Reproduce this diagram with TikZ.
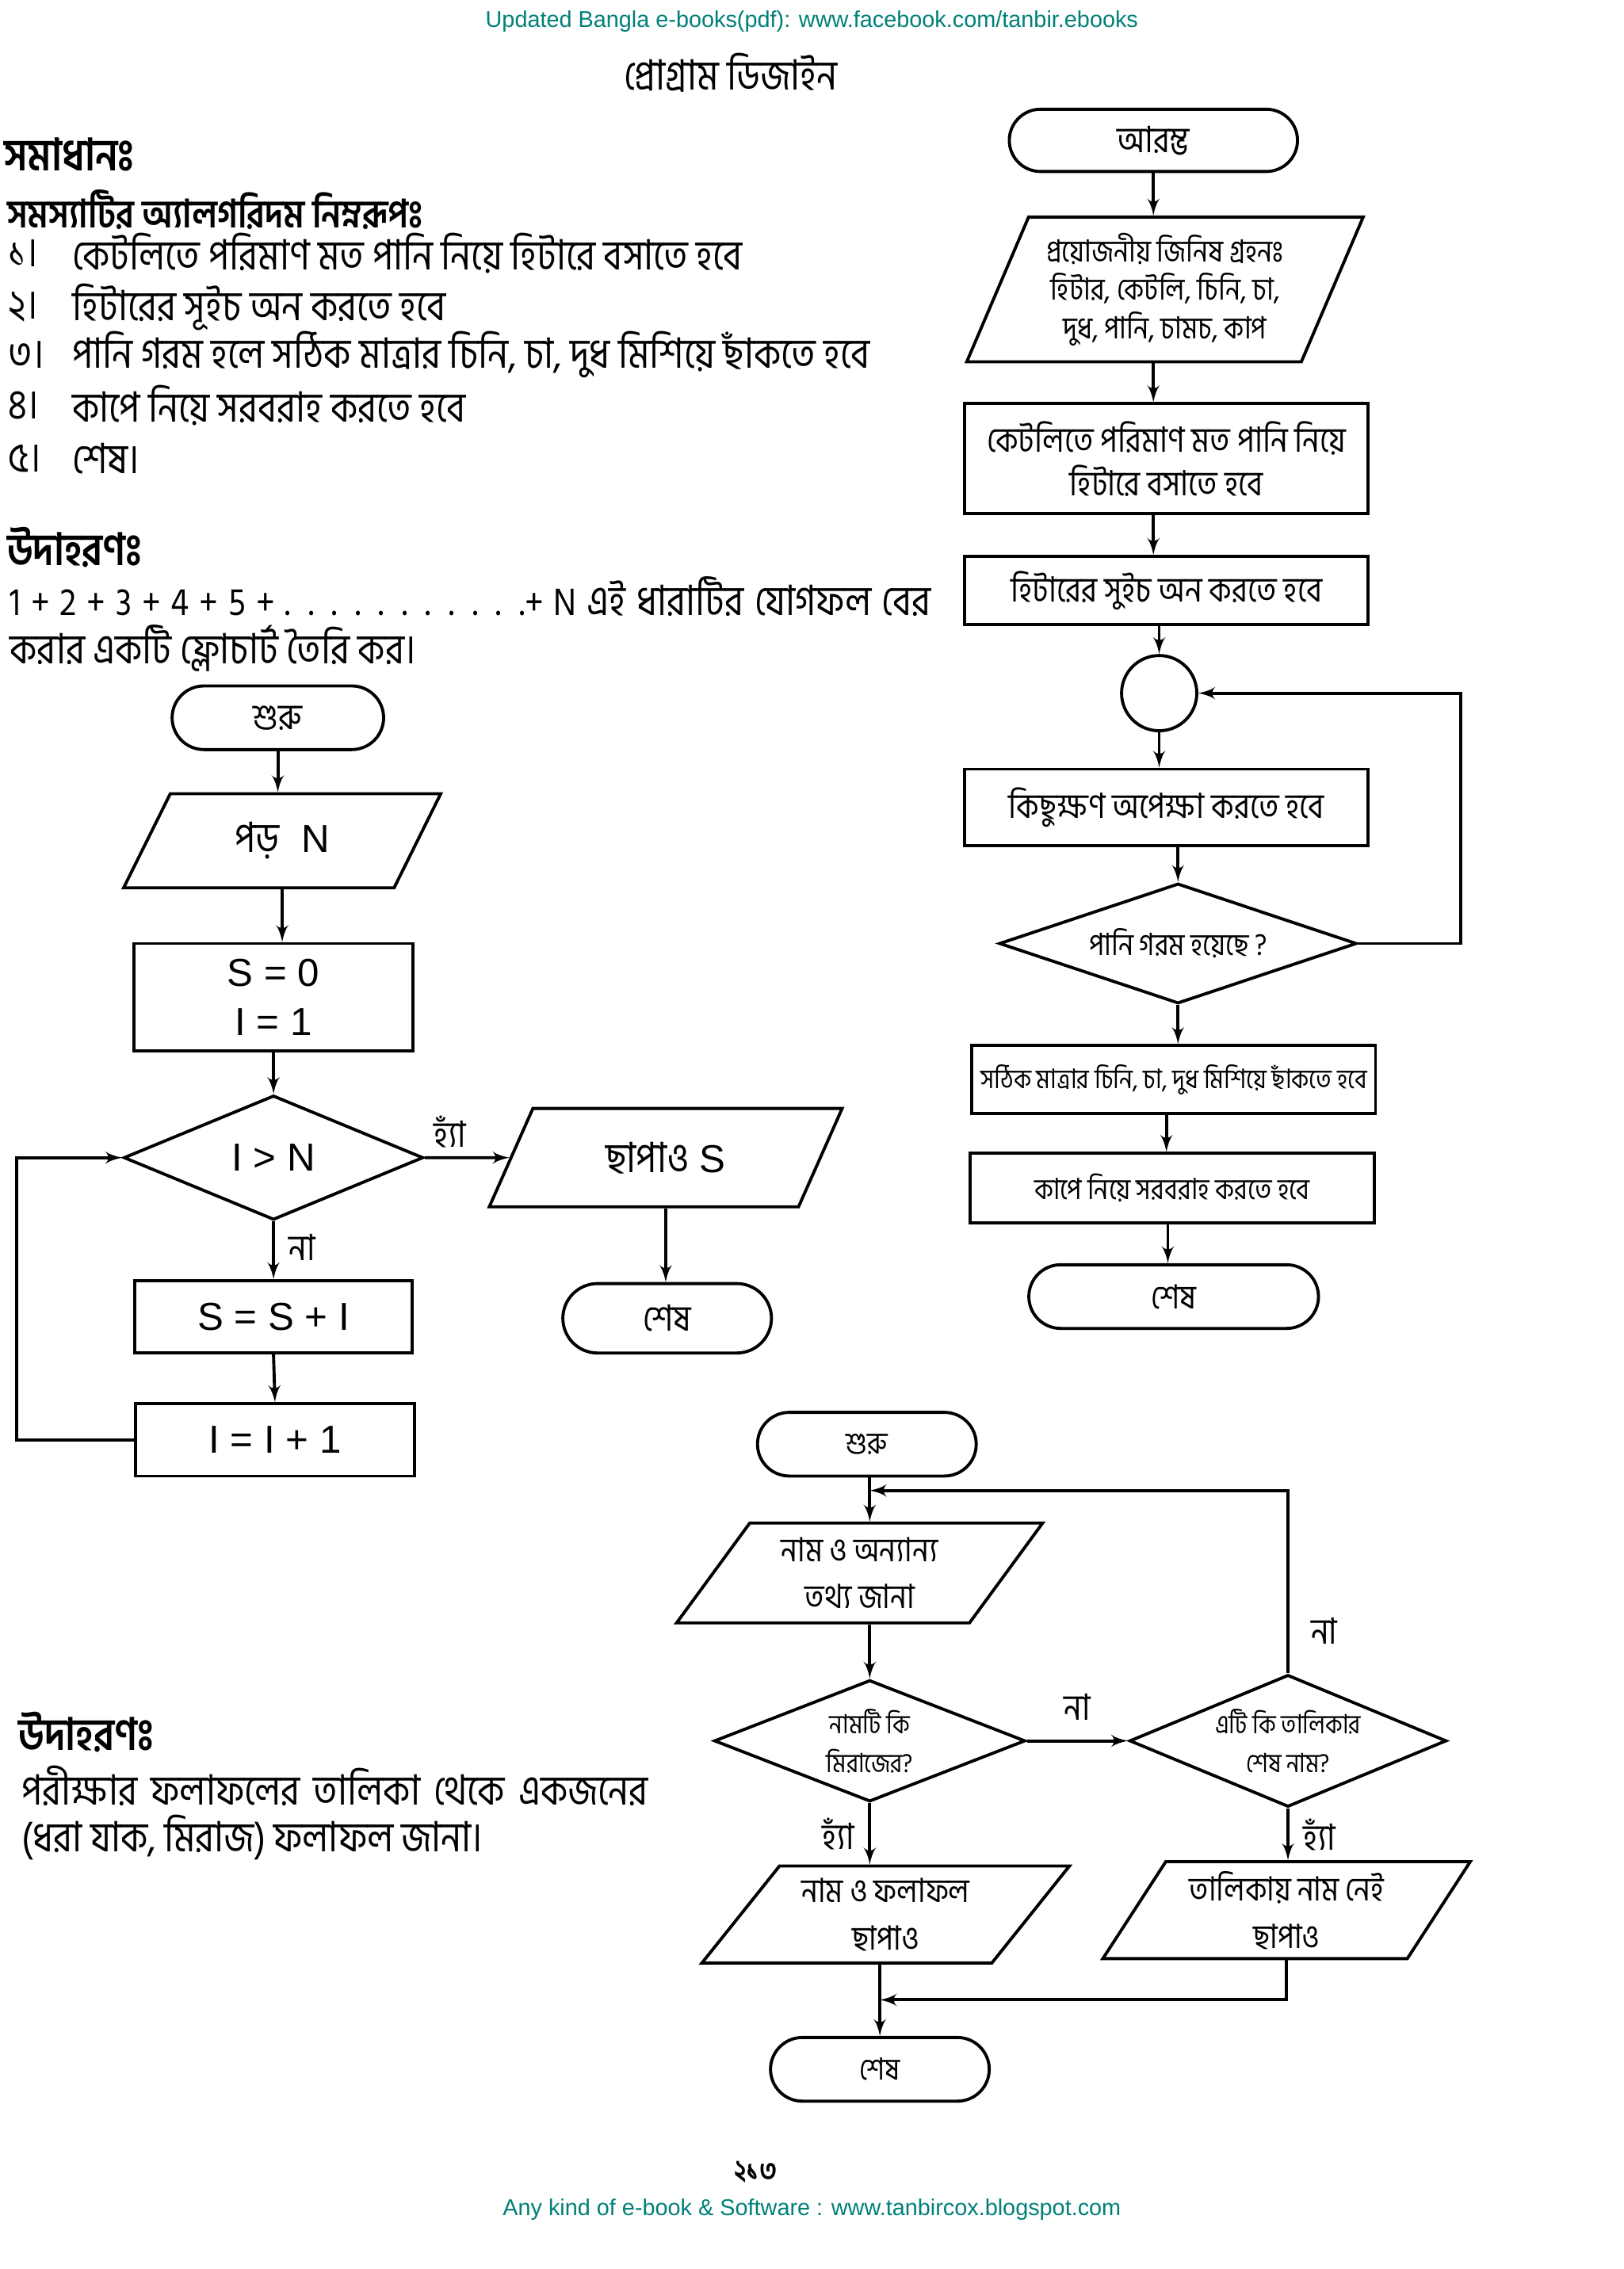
\documentclass[tikz,border=0pt]{standalone}
\usepackage{fontspec}
\setmainfont{Liberation Sans}
\newfontfamily\bn[Script=Bengali,FakeStretch=0.87]{Hind Siliguri}
\usetikzlibrary{arrows, calc, positioning, shapes.geometric, shapes.misc}
\definecolor{linkteal}{RGB}{0,128,120}
\newcommand{\px}{0.018253cm}
\newcommand{\fs}[1]{\fontsize{#1}{\fpeval{1.25*#1}}\selectfont}

\begin{document}
\begin{tikzpicture}[x=\px,y=-\px,inner sep=1pt,>=latex',line width=1.1pt,
  termbox/.style={draw,rounded rectangle,font=\bn\fs{13}},
  procbox/.style={draw,rectangle,align=center},
  iobox/.style 2 args={draw,trapezium,trapezium stretches=true,trapezium left angle=#1,trapezium right angle=#2,align=center},
  decbox/.style={draw,diamond,aspect=2.4,align=center},
  bodytext/.style={anchor=west,font=\bn\fs{15}},
  tag/.style={font=\bn\fs{13}}]
\useasboundingbox (0,0) rectangle (1122,1568);

% page head and foot
\node[text=linkteal,font=\fs{8.2}] (head) at (561,15) {Updated Bangla e-books(pdf): www.facebook.com/tanbir.ebooks};
\node[font=\bn\fs{15}] (title) at (505,50) {প্রোগ্রাম ডিজাইন};
\node[font=\bn\bfseries\fs{10.5}] (pageno) at (522,1501) {২১৩};
\node[text=linkteal,font=\fs{8.2}] (foot) at (561,1527) {Any kind of e-book \& Software : www.tanbircox.blogspot.com};

% algorithm text
\node[bodytext,font=\bn\bfseries\fs{16}] (sol) at (0,107) {সমাধানঃ};
\node[bodytext,font=\bn\bfseries\fs{14}] (algo) at (2,145) {সমস্যাটির অ্যালগরিদম নিম্নরূপঃ};
\foreach \num/\txt/\yy in {১/কেটলিতে পরিমাণ মত পানি নিয়ে হিটারে বসাতে হবে/175,
  ২/হিটারের সূইচ অন করতে হবে/212,
  ৩/পানি গরম হলে সঠিক মাত্রার চিনি{,} চা{,} দুধ মিশিয়ে ছাঁকতে হবে/245,
  ৪/কাপে নিয়ে সরবরাহ করতে হবে/280,
  ৫/শেষ।/317}{
  \node[bodytext] (n\yy) at (3,\yy) {\num।};
  \node[bodytext] (t\yy) at (47,\yy) {\txt};
}
\node[bodytext,font=\bn\bfseries\fs{16}] (ex1) at (2,378) {উদাহরণঃ};
\node[bodytext] (ex1a) at (4,412) {\makebox[11.61cm][s]{\fs{14}1 + 2 + 3 + 4 + 5 + . . . . . . . . . . .+ N {\bn\fs{15}এই ধারাটির যোগফল বের}}};
\node[bodytext] (ex1b) at (4,448) {করার একটি ফ্লোচার্ট তৈরি কর।};
\node[bodytext,font=\bn\bfseries\fs{16}] (ex2) at (10,1197) {উদাহরণঃ};
\node[bodytext] (ex2a) at (12,1234) {\makebox[7.9cm][s]{পরীক্ষার ফলাফলের তালিকা থেকে একজনের}};
\node[bodytext] (ex2b) at (12,1270) {(ধরা যাক, মিরাজ) ফলাফল জানা।};

% sum of series
\node[termbox,minimum width=150*\px,minimum height=44*\px] (s1) at (192,496) {শুরু};
\node[iobox={64}{116},minimum width=220*\px,minimum height=65*\px,font=\fs{14}] (in1) at (195,581) {{\bn\fs{15}পড়}\ \ N};
\node[procbox,minimum width=193*\px,minimum height=74*\px,font=\fs{14}] (pr1) at (189,689) {S = 0\\I = 1};
\node[decbox,minimum width=207*\px,minimum height=86*\px,font=\fs{14}] (d1) at (189,800) {I > N};
\node[iobox={61}{119},minimum width=244*\px,minimum height=68*\px,font=\fs{14}] (out1) at (460,800) {{\bn\fs{15}ছাপাও} S};
\node[termbox,minimum width=148*\px,minimum height=48*\px] (e1) at (461,911) {শেষ};
\node[procbox,minimum width=192*\px,minimum height=50*\px,font=\fs{14}] (pr2) at (189,910) {S = S + I};
\node[procbox,minimum width=193*\px,minimum height=50*\px,font=\fs{14}] (pr3) at (190,995) {I = I + 1};
\draw[->] (s1.south) -- (s1.south |- in1.north);
\draw[->] (in1.south) -- (in1.south |- pr1.north);
\draw[->] (pr1.south) -- (d1.north);
\draw[->] (d1.east) -- (out1.west) node[tag,pos=.3,above=2pt] (yes1) {হ্যাঁ};
\draw[->] (out1.south) -- (out1.south |- e1.north);
\draw[->] (d1.south) -- (pr2.north) node[tag,pos=.45,right=4pt] (no1) {না};
\draw[->] (pr2.south) -- (pr3.north);
\draw[->] (pr3.west) -- ++(-81,0) |- (d1.west);

% making tea
\node[termbox,minimum width=203*\px,minimum height=43*\px] (s2) at (797,97) {আরম্ভ};
\node[iobox={65}{115},minimum width=274*\px,minimum height=100*\px,font=\bn\fs{11}] (in2) at (805,200) {প্রয়োজনীয় জিনিষ গ্রহনঃ\\হিটার, কেটলি, চিনি, চা,\\দুধ, পানি, চামচ, কাপ};
\node[procbox,minimum width=279*\px,minimum height=76*\px,font=\bn\fs{12.5}] (pr4) at (806,317) {কেটলিতে পরিমাণ মত পানি নিয়ে\\হিটারে বসাতে হবে};
\node[procbox,minimum width=279*\px,minimum height=47*\px,font=\bn\fs{12.5}] (pr5) at (806,408) {হিটারের সুইচ অন করতে হবে};
\node[draw,circle,minimum size=52*\px] (c1) at (801,479) {};
\node[procbox,minimum width=279*\px,minimum height=53*\px,font=\bn\fs{12.5}] (pr6) at (806,558) {কিছুক্ষণ অপেক্ষা করতে হবে};
\node[decbox,minimum width=247*\px,minimum height=83*\px,font=\bn\fs{11}] (d2) at (814,652) {পানি গরম হয়েছে ?};
\node[procbox,minimum width=279*\px,minimum height=47*\px,font=\bn\fs{9.7}] (pr7) at (811,746) {সঠিক মাত্রার চিনি, চা, দুধ মিশিয়ে ছাঁকতে হবে};
\node[procbox,minimum width=279*\px,minimum height=48*\px,font=\bn\fs{10.5}] (pr8) at (810,821) {কাপে নিয়ে সরবরাহ করতে হবে};
\node[termbox,minimum width=204*\px,minimum height=44*\px,font=\bn\fs{12}] (e2) at (811,896) {শেষ};
\draw[->] (s2.south) -- (s2.south |- in2.north);
\draw[->] (s2.south |- in2.south) -- (s2.south |- pr4.north);
\draw[->] (s2.south |- pr4.south) -- (s2.south |- pr5.north);
\draw[->] (c1.south |- pr5.south) -- (c1.north);
\draw[->] (c1.south) -- (c1.south |- pr6.north);
\draw[->] (pr6.south -| d2.north) -- (d2.north);
\draw[->] (d2.south) -- (d2.south |- pr7.north);
\draw[->] (806,0 |- pr7.south) -- (806,0 |- pr8.north);
\draw[->] (807,0 |- pr8.south) -- (807,0 |- e2.north);
\draw[->] (d2.east) -- ++(71,0) |- (c1.east);

% exam result
\node[termbox,minimum width=155*\px,minimum height=44*\px,font=\bn\fs{11}] (s3) at (599,998) {শুরু};
\node[iobox={55}{125},minimum width=253*\px,minimum height=69*\px,font=\bn\fs{12}] (in3) at (594,1087) {নাম ও অন্যান্য\\[2pt]তথ্য জানা};
\node[decbox,minimum width=215*\px,minimum height=84*\px,font=\bn\fs{9.5}] (d3) at (601,1203) {নামটি কি\\[2pt]মিরাজের?};
\node[decbox,minimum width=213*\px,minimum height=85*\px,font=\bn\fs{9.5}] (d4) at (890,1203) {এটি কি তালিকার\\[2pt]শেষ নাম?};
\node[iobox={51}{129},minimum width=254*\px,minimum height=67*\px,font=\bn\fs{12}] (out3) at (612,1323) {নাম ও ফলাফল\\[2pt]ছাপাও};
\node[iobox={58}{122},minimum width=254*\px,minimum height=67*\px,font=\bn\fs{12}] (out4) at (889,1320) {তালিকায় নাম নেই\\[2pt]ছাপাও};
\node[termbox,minimum width=155*\px,minimum height=44*\px,font=\bn\fs{11}] (e3) at (608,1430) {শেষ};
\coordinate (j1) at (601,1030);
\coordinate (j2) at (608,1382);
\draw[->] (601,0 |- s3.south) -- (601,0 |- in3.north);
\draw[->] (d4.north) |- (j1);
\draw[->] (601,0 |- in3.south) -- (d3.north);
\draw[->] (d3.east) -- (d4.west) node[tag,midway,above=6pt] (no3) {না};
\draw[->] (d3.south) -- (d3.south |- out3.north) node[tag,midway,left=4pt] (yes3) {হ্যাঁ};
\draw[->] (d4.south) -- (d4.south |- out4.north) node[tag,midway,right=4pt] (yes4) {হ্যাঁ};
\node[tag] (no4) at (915,1127) {না};
\draw[->] (out4.south) |- (j2);
\draw[->] (608,0 |- out3.south) -- (e3.north);
\end{tikzpicture}
\end{document}
